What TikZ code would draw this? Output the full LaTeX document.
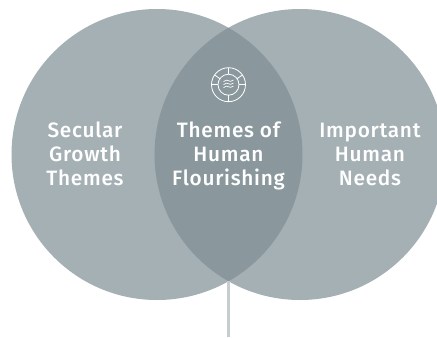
\documentclass[tikz,border=0pt]{standalone}
\usepackage{fontspec}
\setmainfont[UprightFont=*-Medium,BoldFont=*-Medium,LetterSpace=3.5]{Fira Sans}
\definecolor{vennfill}{HTML}{7E8E94}
\definecolor{stemcol}{HTML}{C5CDD0}
\tikzset{venntext/.style={align=center,anchor=south,text depth=0pt,inner sep=0pt,text=white,font=\fontsize{15.6}{18}\selectfont},
iconline/.style={draw=white,line width=0.6pt}}
\begin{document}
\begin{tikzpicture}[x=0.75pt,y=-0.75pt]
\useasboundingbox (0,0) rectangle (437,337);
\fill[vennfill,fill opacity=0.7](157,154.5)circle(145.5);
\fill[vennfill,fill opacity=0.7](300,154.5)circle(145.5);
\coordinate (apex) at (228.5,281.2);
\coordinate (stemend) at (228.5,337);
\draw[stemcol,line width=1.6pt](apex)--(stemend);
% icon
\draw[iconline](228.5,84.7)circle(17);
\draw[iconline](228.5,84.7)circle(10.5);
\foreach \ang in {90,0,180,-90,-145,-35}{\draw[iconline](228.5,84.7)++(\ang:10.5)--++(\ang:6.5);}
\foreach \dy in {-3,0,3}{\draw[iconline,line width=0.5pt](223.5,84.7+\dy)..controls(226,82.7+\dy)and(227,82.7+\dy)..(228.5,83.7+\dy)..controls(230,84.7+\dy)and(231,84.7+\dy)..(233.5,83+\dy);}
\node[venntext](secular) at (85,186){Secular\\Growth\\Themes};
\node[venntext](flourish) at (228.5,186){Themes of\\Human\\Flourishing};
\node[venntext](needs) at (370,186){Important\\Human\\Needs};
\end{tikzpicture}
\end{document}
